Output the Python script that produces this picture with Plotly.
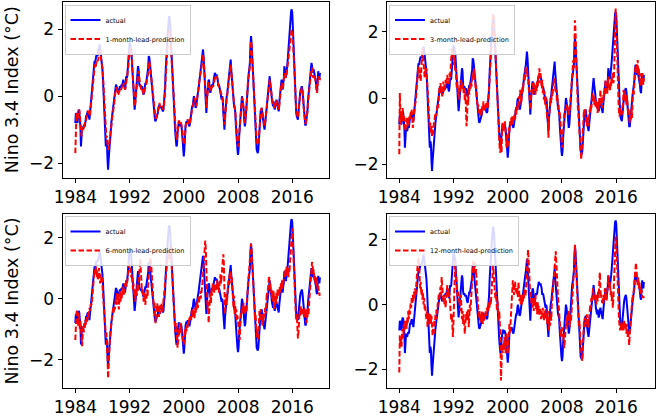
import plotly.graph_objects as go

# ---------------- data (monthly, starting Jan 1984) ----------------
start_year = 1984
tick_years = [1984, 1992, 2000, 2008, 2016]
y_ticks = [-2, 0, 2]

actual = [
    -0.8, -0.5, -0.6, -0.7, -0.8, -0.5, -0.4, -0.45, -0.6, -0.9, -1.5, -1.1,
    -0.9, -0.95, -1.0, -0.9, -0.85, -0.9, -0.7, -0.6, -0.6, -0.5, -0.45, -0.5,
    -0.6, -0.7, -0.5, -0.3, -0.1, 0.0, 0.3, 0.6, 0.8, 0.95, 1.05, 1.0,
    1.15, 1.2, 1.25, 1.2, 1.25, 1.35, 1.5, 1.55, 1.45, 1.3, 1.2, 1.0,
    0.8, 0.5, 0.1, -0.5, -0.9, -1.3, -1.5, -1.3, -1.4, -1.9, -2.2, -1.9,
    -1.6, -1.3, -1.1, -0.9, -0.75, -0.6, -0.45, -0.4, -0.3, -0.1, 0.1, 0.3,
    0.35, 0.3, 0.2, 0.15, 0.1, 0.15, 0.25, 0.3, 0.25, 0.3, 0.35, 0.3,
    0.4, 0.5, 0.35, 0.25, 0.2, 0.35, 0.6, 0.55, 0.6, 0.8, 1.1, 1.4,
    1.6, 1.55, 1.45, 1.4, 1.1, 0.7, 0.35, 0.0, -0.2, -0.4, -0.2, 0.1,
    0.3, 0.5, 0.7, 0.9, 0.8, 0.4, 0.3, 0.35, 0.3, 0.25, 0.3, 0.1,
    0.1, 0.05, 0.15, 0.3, 0.4, 0.35, 0.5, 0.55, 0.6, 0.85, 1.2, 1.15,
    1.0, 0.8, 0.6, 0.4, 0.1, 0.0, -0.2, -0.3, -0.55, -0.7, -0.75, -0.7,
    -0.65, -0.6, -0.5, -0.35, -0.3, -0.25, -0.35, -0.3, -0.3, -0.35, -0.4, -0.45,
    -0.4, -0.2, 0.0, 0.3, 0.8, 1.2, 1.5, 1.8, 2.0, 2.2, 2.4, 2.35,
    2.1, 1.7, 1.4, 0.9, 0.4, 0.0, -0.4, -0.7, -0.9, -1.1, -1.3, -1.5,
    -1.45, -1.1, -0.85, -0.8, -0.8, -0.9, -0.8, -0.85, -0.9, -1.1, -1.3, -1.6,
    -1.8, -1.6, -1.1, -0.9, -0.8, -0.75, -0.8, -0.7, -0.8, -0.9, -0.9, -0.8,
    -0.6, -0.5, -0.4, -0.3, -0.3, -0.1, 0.0, -0.1, -0.2, -0.35, -0.3, -0.1,
    0.05, 0.1, 0.2, 0.35, 0.6, 0.7, 0.8, 0.9, 1.0, 1.2, 1.4, 1.2,
    0.9, 0.6, 0.3, -0.2, -0.5, -0.1, 0.3, 0.35, 0.5, 0.45, 0.2, 0.1,
    0.2, 0.3, 0.35, 0.3, 0.35, 0.5, 0.6, 0.7, 0.65, 0.6, 0.65, 0.6,
    0.5, 0.3, 0.35, 0.3, 0.2, 0.15, 0.1, -0.1, 0.0, -0.1, -0.5, -0.9,
    -1.0, -0.6, -0.3, -0.2, 0.0, 0.1, 0.3, 0.5, 0.6, 0.8, 1.0, 1.1,
    0.8, 0.5, 0.2, -0.1, -0.2, -0.3, -0.35, -0.45, -0.8, -1.2, -1.5, -1.6,
    -1.75, -1.6, -1.2, -0.9, -0.6, -0.3, -0.1, 0.0, -0.1, -0.2, -0.4, -0.7,
    -0.9, -0.8, -0.5, -0.1, 0.2, 0.5, 0.6, 0.7, 0.8, 1.0, 1.5, 1.8,
    1.6, 1.2, 0.9, 0.5, 0.1, -0.3, -0.8, -1.1, -1.4, -1.6, -1.65, -1.7,
    -1.6, -1.2, -0.8, -0.6, -0.45, -0.4, -0.35, -0.5, -0.7, -0.85, -0.9, -1.0,
    -0.8, -0.6, -0.5, -0.3, -0.1, 0.2, 0.4, 0.55, 0.6, 0.4, 0.3, 0.1,
    -0.1, -0.2, -0.3, -0.15, -0.3, -0.4, -0.3, -0.2, -0.1, -0.2, -0.3, -0.4,
    -0.45, -0.2, 0.0, 0.2, 0.4, 0.5, 0.3, 0.2, 0.4, 0.5, 0.9, 0.7,
    0.6, 0.6, 0.7, 0.9, 1.1, 1.4, 1.5, 1.8, 2.0, 2.3, 2.55, 2.6,
    2.5, 2.1, 1.6, 1.0, 0.5, 0.0, -0.4, -0.5, -0.6, -0.7, -0.7, -0.5,
    -0.2, -0.1, 0.1, 0.2, 0.3, 0.3, 0.2, 0.0, -0.4, -0.6, -0.8, -0.85,
    -0.85, -0.7, -0.6, -0.4, -0.1, 0.1, 0.2, 0.3, 0.5, 0.8, 1.0, 0.9,
    0.75, 0.7, 0.8, 0.7, 0.65, 0.5, 0.4, 0.2, 0.15, 0.5, 0.75, 0.6,
    0.5, 0.7,
]

pred_1 = [
    -1.7, -0.7, -0.5, -0.6, -0.7, -0.6, -0.45, -0.4, -0.55, -0.8, -1.2, -1.2,
    -1.0, -0.9, -0.9, -0.95, -0.8, -0.8, -0.8, -0.65, -0.55, -0.55, -0.45, -0.45,
    -0.5, -0.6, -0.6, -0.4, -0.2, -0.05, 0.1, 0.4, 0.65, 0.75, 0.85, 0.95,
    0.85, 1.0, 1.05, 1.1, 1.05, 1.15, 1.25, 1.35, 1.3, 1.2, 1.05, 0.95,
    0.85, 0.6, 0.3, -0.1, -0.6, -0.9, -1.2, -1.25, -1.2, -1.4, -1.6, -1.5,
    -1.5, -1.3, -1.1, -0.95, -0.8, -0.65, -0.55, -0.45, -0.35, -0.2, 0.0, 0.15,
    0.25, 0.25, 0.2, 0.15, 0.05, 0.1, 0.15, 0.2, 0.25, 0.2, 0.25, 0.3,
    0.25, 0.35, 0.4, 0.3, 0.2, 0.25, 0.4, 0.5, 0.5, 0.65, 0.9, 1.2,
    1.4, 1.45, 1.35, 1.3, 1.15, 0.8, 0.45, 0.1, -0.1, -0.3, -0.25, 0.0,
    0.2, 0.35, 0.55, 0.7, 0.75, 0.5, 0.3, 0.3, 0.25, 0.2, 0.25, 0.15,
    0.05, 0.05, 0.1, 0.2, 0.35, 0.35, 0.4, 0.5, 0.5, 0.7, 0.95, 1.05,
    0.95, 0.8, 0.6, 0.4, 0.2, 0.0, -0.15, -0.25, -0.45, -0.6, -0.65, -0.65,
    -0.6, -0.55, -0.5, -0.4, -0.3, -0.2, -0.3, -0.3, -0.25, -0.3, -0.35, -0.4,
    -0.4, -0.3, -0.1, 0.15, 0.6, 1.0, 1.3, 1.55, 1.7, 1.85, 1.95, 1.9,
    1.8, 1.5, 1.2, 0.8, 0.4, 0.0, -0.3, -0.55, -0.75, -0.95, -1.1, -1.25,
    -1.3, -1.1, -0.85, -0.75, -0.75, -0.85, -0.8, -0.8, -0.85, -0.95, -1.1, -1.3,
    -1.45, -1.4, -1.05, -0.9, -0.8, -0.75, -0.75, -0.7, -0.75, -0.85, -0.85, -0.8,
    -0.65, -0.5, -0.45, -0.35, -0.3, -0.15, -0.05, -0.05, -0.15, -0.3, -0.3, -0.15,
    0.0, 0.05, 0.15, 0.3, 0.5, 0.65, 0.7, 0.8, 0.9, 1.05, 1.25, 1.15,
    0.9, 0.65, 0.35, -0.05, -0.35, -0.15, 0.2, 0.3, 0.4, 0.4, 0.25, 0.15,
    0.15, 0.25, 0.3, 0.3, 0.3, 0.4, 0.5, 0.6, 0.6, 0.55, 0.6, 0.55,
    0.5, 0.35, 0.3, 0.3, 0.2, 0.15, 0.1, 0.0, -0.05, -0.1, -0.35, -0.7,
    -0.85, -0.7, -0.4, -0.25, -0.05, 0.05, 0.2, 0.4, 0.5, 0.65, 0.85, 0.95,
    0.8, 0.55, 0.25, 0.0, -0.15, -0.25, -0.3, -0.4, -0.65, -1.0, -1.25, -1.4,
    -1.5, -1.45, -1.15, -0.9, -0.65, -0.35, -0.15, -0.05, -0.1, -0.2, -0.35, -0.6,
    -0.8, -0.75, -0.55, -0.2, 0.1, 0.4, 0.55, 0.6, 0.7, 0.9, 1.3, 1.65,
    1.5, 1.15, 0.85, 0.5, 0.15, -0.2, -0.6, -0.95, -1.2, -1.35, -1.4, -1.45,
    -1.4, -1.15, -0.85, -0.6, -0.5, -0.4, -0.35, -0.45, -0.6, -0.75, -0.85, -0.9,
    -0.8, -0.65, -0.5, -0.35, -0.15, 0.1, 0.3, 0.45, 0.5, 0.4, 0.3, 0.1,
    -0.05, -0.15, -0.25, -0.2, -0.25, -0.35, -0.3, -0.2, -0.15, -0.15, -0.25, -0.35,
    -0.4, -0.3, -0.05, 0.15, 0.3, 0.4, 0.3, 0.2, 0.3, 0.45, 0.7, 0.65,
    0.6, 0.55, 0.65, 0.8, 0.95, 1.2, 1.3, 1.5, 1.7, 1.85, 2.0, 2.0,
    1.95, 1.8, 1.4, 0.9, 0.5, 0.05, -0.3, -0.45, -0.5, -0.6, -0.65, -0.5,
    -0.25, -0.15, 0.05, 0.15, 0.25, 0.25, 0.2, 0.05, -0.3, -0.5, -0.7, -0.8,
    -0.8, -0.7, -0.6, -0.45, -0.15, 0.05, 0.15, 0.25, 0.4, 0.65, 0.8, 0.85,
    0.7, 0.55, 0.6, 0.65, 0.55, 0.5, 0.35, 0.2, 0.1, 0.35, 0.6, 0.55,
    0.45, 0.55,
]

pred_3 = [
    -1.7, 0.15, -0.5, -0.8, -0.4, -0.7, -0.3, -0.6, -0.5, -0.7, -0.85, -1.0,
    -0.8, -0.6, -0.75, -0.85, -0.6, -0.8, -0.55, -0.65, -0.4, -0.5, -0.35, -0.6,
    -0.9, -0.7, -0.45, -0.5, -0.2, -0.1, 0.2, 0.55, 0.5, 0.8, 0.95, 0.7,
    0.6, 0.85, 0.5, 0.9, 1.2, 1.5, 1.3, 0.9, 1.0, 0.6, 0.9, 0.75,
    0.9, 0.55, 0.6, 0.2, -0.3, -0.7, -0.9, -0.75, -1.05, -0.85, -1.15, -0.95,
    -1.1, -0.8, -0.65, -0.7, -0.45, -0.55, -0.35, -0.4, -0.2, -0.3, 0.1, 0.3,
    0.2, 0.45, 0.15, 0.35, 0.05, 0.3, 0.5, 0.2, 0.4, 0.25, 0.55, 0.4,
    0.6, 0.7, 0.45, 0.5, 0.4, 0.75, 0.6, 0.9, 1.1, 1.5, 1.2, 1.35,
    1.4, 1.0, 1.2, 0.8, 0.9, 0.45, 0.3, 0.5, 0.1, 0.25, -0.05, 0.3,
    0.2, 0.55, 0.35, 0.5, 0.25, 0.4, 0.15, 0.3, -0.1, 0.2, -0.3, -0.85,
    -0.6, 0.1, -0.2, 0.3, 0.1, 0.45, 0.25, 0.5, 0.35, 0.7, 0.55, 0.8,
    0.9, 0.6, 0.75, 0.3, 0.4, 0.0, -0.1, -0.3, -0.2, -0.45, -0.35, -0.55,
    -0.45, -0.3, -0.5, -0.2, -0.35, -0.1, -0.25, -0.4, -0.2, -0.3, -0.15, -0.3,
    -0.1, -0.3, 0.0, 0.2, 0.6, 0.9, 1.3, 1.7, 2.0, 2.3, 2.55, 2.45,
    2.2, 1.9, 1.5, 1.1, 0.6, 0.3, -0.2, -0.6, -1.0, -1.3, -1.6, -1.65,
    -1.2, -1.65, -0.9, -0.75, -1.0, -0.8, -0.95, -0.7, -1.0, -1.2, -1.5, -1.1,
    -1.5, -1.2, -0.9, -1.05, -0.7, -0.85, -0.6, -0.75, -0.55, -0.8, -0.6, -0.7,
    -0.5, -0.65, -0.35, -0.5, -0.25, -0.4, -0.1, -0.3, 0.05, -0.2, 0.25, 0.0,
    -0.15, 0.1, 0.35, 0.2, 0.45, 0.75, 0.5, 0.8, 0.95, 0.7, 0.9, 0.65,
    0.6, 0.3, 0.2, -0.1, -0.35, -0.05, 0.25, 0.1, 0.45, 0.3, 0.5, 0.2,
    0.3, 0.1, 0.4, 0.2, 0.5, 0.35, 0.65, 0.45, 0.9, 0.6, 0.75, 0.5,
    0.35, 0.55, 0.15, 0.3, -0.05, 0.2, -0.2, 0.05, -0.3, -0.5, -0.65, -0.55,
    -1.2, -0.6, -0.4, -0.2, 0.0, -0.15, 0.2, 0.05, 0.35, 0.5, 0.6, 0.45,
    0.3, 0.15, 0.25, -0.1, 0.1, -0.35, -0.2, -0.5, -0.4, -0.65, -0.9, -1.2,
    -1.5, -1.3, -0.9, -0.65, -0.5, -0.35, -0.4, -0.2, -0.3, -0.35, -0.25, -0.5,
    -0.35, -0.5, -0.3, 0.0, 0.3, 0.45, 0.7, 0.85, 1.15, 0.9, 1.6, 2.35,
    2.0, 1.3, 0.65, 0.3, -0.25, -0.5, -0.85, -1.1, -1.35, -1.5, -1.85, -1.6,
    -1.3, -0.75, -0.5, -0.35, -0.55, -0.3, -0.6, -0.75, -0.85, -0.6, -0.75, -0.85,
    -0.55, -0.35, -0.45, -0.2, -0.3, -0.05, 0.15, -0.1, 0.1, -0.2, 0.0, -0.25,
    -0.05, -0.3, -0.1, -0.45, -0.15, -0.35, 0.0, -0.25, 0.25, -0.1, 0.05, -0.3,
    -0.2, 0.1, -0.05, 0.3, 0.1, 0.55, 0.2, 0.35, 0.1, 0.45, 0.65, 0.3,
    0.4, 0.2, 0.5, 0.35, 0.65, 0.5, 0.8, 0.45, 0.6, 1.3, 2.2, 2.7,
    2.4, 1.5, 0.8, 0.25, -0.1, -0.45, -0.55, -0.3, -0.5, -0.35, -0.5, -0.25,
    -0.2, 0.25, 0.0, 0.2, -0.1, 0.1, -0.2, 0.05, -0.3, -0.45, -0.35, -0.6,
    -0.75, -0.5, -0.65, -0.3, -0.6, -0.1, 0.25, 0.1, 0.5, 0.8, 0.95, 0.75,
    1.05, 0.8, 1.15, 0.7, 0.9, 0.55, 0.75, 0.35, 0.6, 0.4, 0.75, 0.55,
    0.4, 0.6,
]

pred_6 = [
    -1.35, -0.7, -0.5, -0.35, -0.6, -0.9, -0.45, -0.8, -1.0, -0.7, -1.1, -1.3,
    -1.55, -1.2, -0.9, -1.1, -0.8, -0.95, -0.7, -0.85, -0.6, -0.75, -0.5, -0.65,
    -0.45, -0.3, -0.4, -0.25, -0.15, -0.2, 0.1, 0.3, 0.5, 0.75, 0.95, 0.8,
    0.95, 1.05, 0.7, 0.9, 0.6, 0.85, 1.0, 0.75, 0.5, 0.8, 0.55, 0.7,
    0.45, 0.4, 0.1, -0.25, -0.6, -0.9, -1.25, -1.1, -1.6, -1.9, -2.6, -2.0,
    -1.8, -1.4, -1.1, -0.9, -0.7, -0.75, -0.5, -0.3, -0.45, -0.25, -0.35, -0.1,
    0.1, -0.2, 0.2, -0.05, 0.15, -0.35, 0.05, 0.25, -0.1, 0.2, 0.0, 0.3,
    0.15, 0.4, 0.1, 0.3, 0.5, 0.35, 0.6, 0.4, 0.7, 0.85, 0.95, 1.1,
    1.15, 1.0, 0.85, 0.7, 0.8, 0.45, 0.3, 0.5, 0.1, 0.3, -0.1, 0.15,
    0.3, 0.1, 0.5, 0.25, 0.6, 0.9, 1.1, 1.3, 0.9, 0.4, 0.2, 0.35,
    0.1, -0.1, 0.2, 0.05, -0.2, 0.15, 0.0, 0.3, 0.1, 0.5, 0.8, 0.95,
    1.1, 1.35, 1.2, 0.8, 0.5, 0.3, 0.1, -0.3, -0.1, -0.5, -0.8, -0.4,
    -0.3, -0.15, -0.4, -0.2, -0.6, -0.3, -0.5, -0.2, -0.35, -0.15, -0.45, -0.25,
    -0.3, 0.0, 0.2, 0.4, 0.75, 0.9, 1.1, 1.2, 1.45, 1.5, 1.3, 1.6,
    1.7, 1.6, 1.2, 0.9, 0.75, 0.3, -0.15, -0.5, -0.9, -1.1, -0.8, -1.25,
    -1.3, -1.6, -1.4, -1.0, -1.2, -0.8, -1.0, -0.85, -1.1, -1.2, -1.3, -1.45,
    -1.5, -1.3, -1.0, -1.2, -0.9, -1.05, -0.85, -0.95, -0.75, -0.85, -0.6, -0.7,
    -0.55, -0.7, -0.4, -0.6, -0.35, -0.5, -0.45, -0.65, -0.3, -0.5, -0.2, -0.35,
    -0.1, -0.3, 0.1, -0.15, 0.05, 0.25, 0.0, 0.3, 0.2, 0.5, 0.75, 1.0,
    1.5, 1.75, 1.9, 1.6, 0.8, 0.3, -0.35, -0.1, -0.8, -0.4, -0.1, 0.2,
    -0.15, 0.3, 0.1, 0.5, 0.25, 0.45, 0.2, 0.35, 0.5, 0.25, 0.4, 0.6,
    0.35, 0.55, 0.2, 0.4, 0.6, 0.8, 0.5, 0.7, 1.0, 1.2, 1.45, 1.1,
    0.3, -0.5, 0.0, 0.15, -0.2, 0.1, 0.3, 0.6, 0.45, 0.8, 0.7, 0.9,
    0.5, 0.7, 0.2, 0.0, -0.3, 0.1, -0.5, -0.2, -0.6, -0.35, -0.7, -0.55,
    -0.8, -1.0, -1.2, -1.35, -0.9, -0.6, -0.35, -0.5, -0.25, -0.45, -0.15, -0.4,
    -0.3, -0.5, -0.2, -0.45, 0.1, 0.4, 0.6, 0.75, 1.05, 1.2, 1.5, 1.8,
    1.6, 1.3, 0.9, 0.7, 0.3, -0.2, -0.7, -0.5, -0.9, -1.25, -1.0, -1.35,
    -1.2, -0.8, -0.4, -0.6, -0.35, -0.7, -0.5, -0.9, -0.6, -0.75, -0.45, -0.6,
    -0.3, -0.5, 0.0, 0.2, 0.1, 0.45, 0.6, 0.75, 0.4, 0.55, 0.2, 0.3,
    0.0, 0.3, -0.1, 0.25, -0.35, -0.05, 0.1, -0.2, 0.2, 0.0, 0.3, 0.1,
    0.3, 0.1, 0.4, 0.2, 0.5, 0.3, 0.6, 0.35, 0.45, 0.65, 0.8, 0.7,
    0.95, 0.75, 1.05, 0.8, 0.95, 0.7, 1.0, 0.85, 1.2, 1.6, 1.85, 2.1,
    2.3, 1.9, 1.3, 0.8, 0.2, -0.1, -0.4, -0.7, -0.5, -0.9, -1.3, -1.1,
    -0.7, -0.4, -0.6, -0.25, -0.5, -0.3, -0.55, -0.35, -0.45, -0.6, -0.3, -0.5,
    -0.4, -0.8, -0.35, -0.6, -0.3, -0.5, -0.1, 0.2, 0.5, 0.85, 1.0, 1.2,
    1.15, 0.8, 0.95, 0.6, 0.75, 0.5, 0.7, 0.4, 0.6, 0.3, 0.45, 0.15,
    0.2, 0.0,
]

pred_12 = [
    -2.1, -0.95, -1.25, -1.0, -1.3, -0.85, -0.75, -1.05, -0.6, -0.8, -0.5, -0.7,
    -0.55, -0.75, -0.4, -0.6, -0.2, -0.45, -0.15, -0.3, 0.05, -0.1, 0.2, 0.05,
    0.3, 0.1, 0.4, 0.2, 0.5, 0.3, 0.7, 0.85, 1.1, 1.3, 1.45, 1.2,
    0.8, 0.5, 0.7, 0.3, 0.5, 0.15, 0.35, 0.0, 0.2, -0.15, -0.05, -0.3,
    -0.45, -0.2, -0.7, -0.35, -0.5, -0.25, -0.6, -0.3, -0.55, -0.35, -0.7, -0.95,
    -0.75, -0.9, -0.5, -0.65, -0.3, -0.45, -0.15, -0.3, 0.0, 0.1, 0.3, 0.2,
    0.4, 0.55, 0.3, 0.85, 0.6, 0.4, 0.1, 0.3, 0.0, 0.2, -0.1, 0.15,
    0.4, 0.6, 0.3, 0.5, 0.2, 0.35, 0.0, -0.2, -0.5, -0.3, -0.7, -1.0,
    -0.5, 0.3, 0.9, 1.35, 1.0, 0.8, 0.5, 0.25, 0.4, 0.1, 0.2, -0.05,
    -0.2, 0.3, -0.3, -0.45, -0.2, -0.6, -0.3, -0.5, -0.9, -0.6, -0.3, -0.45,
    -0.2, -0.5, -0.15, -0.7, -0.3, 0.0, -0.2, 0.2, 0.5, 0.8, 1.1, 1.35,
    1.0, 1.25, 1.3, 0.9, 1.1, 0.6, 0.4, 0.1, -0.1, -0.4, -0.2, -0.5,
    -0.3, -0.55, -0.2, -0.45, -0.6, -0.35, -0.5, -0.3, -0.45, -0.2, -0.35, -0.1,
    -0.25, 0.0, -0.2, 0.1, -0.1, 0.2, 0.0, 0.3, 0.6, 0.9, 1.2, 1.0,
    0.7, 0.4, 0.2, 0.4, 0.0, -0.2, 0.1, -0.3, -0.5, -0.2, -0.6, -1.0,
    -2.35, -1.8, -1.3, -1.5, -1.2, -1.4, -1.0, -1.3, -1.5, -1.25, -0.9, -1.0,
    -1.5, -1.0, -0.8, -0.6, -0.9, -0.5, -0.2, 0.1, 0.4, 0.75, 0.5, 0.3,
    0.6, 0.7, 0.4, 0.55, 0.3, 0.5, 0.2, 0.7, 0.45, 0.1, 0.3, 0.0,
    0.2, 0.0, 0.3, 0.1, 0.35, 0.2, 0.5, 0.25, 0.4, 0.7, 1.1, 1.5,
    1.7, 1.4, 0.8, 0.5, 0.2, 0.35, 0.0, 0.15, -0.1, 0.2, -0.2, 0.1,
    0.0, 0.3, -0.15, 0.05, -0.3, 0.1, -0.2, -0.05, -0.35, -0.1, -0.25, -0.45,
    -0.2, -0.4, -0.1, -0.3, -0.5, -0.2, -0.35, -0.15, -0.45, -0.3, -0.6, -0.2,
    -0.5, -0.8, -0.4, -0.65, -0.3, -0.5, 0.0, 0.2, 0.4, 0.6, 0.9, 1.2,
    1.4, 1.65, 1.3, 0.8, 0.5, 0.2, 0.0, -0.2, -0.4, -0.6, -1.0, -0.8,
    -0.7, -1.0, -0.9, -1.2, -1.35, -1.1, -0.8, -0.6, -0.4, -0.6, -0.3, -0.5,
    -0.2, -0.6, -0.7, -0.3, -0.5, -0.2, 0.1, 0.3, 0.5, 0.8, 1.3, 1.85,
    1.4, 0.9, 0.6, 0.3, 0.0, -0.4, -0.7, -0.5, -0.9, -1.3, -1.5, -1.65,
    -1.75, -1.2, -0.8, -0.5, -0.65, -0.4, -0.7, -0.5, -0.3, -0.6, -0.45, -0.7,
    -0.5, -0.3, 0.0, -0.1, 0.2, 0.1, 0.3, 0.5, 0.3, 0.15, 0.35, 0.1,
    0.25, 0.0, 0.3, 0.1, 0.4, 0.2, 0.7, 1.0, 0.5, 0.2, 0.3, 0.05,
    0.2, 0.0, 0.3, 0.1, 0.5, 0.3, 0.4, 0.1, 0.35, 0.6, 0.9, 0.7,
    0.5, 0.7, 0.3, 0.45, 0.1, 0.3, -0.1, 0.2, 0.6, 1.0, 1.6, 2.1,
    2.0, 1.5, 0.8, 0.2, -0.3, -0.5, -0.65, -0.8, -0.6, -0.75, -0.55, -0.8,
    -0.6, -0.8, -0.5, -0.7, -0.55, -0.75, -0.9, -0.6, -1.0, -0.8, -1.15, -1.25,
    -0.9, -0.6, -0.3, -0.2, 0.0, 0.3, 0.2, 0.5, 0.6, 0.85, 1.1, 1.3,
    1.1, 0.8, 0.6, 0.85, 0.5, 0.7, 0.4, 0.55, 0.3, 0.45, 0.2, 0.3,
    0.2, 0.2,
]

lead_names = [
    "1-month-lead-prediction",
    "3-month-lead-prediction",
    "6-month-lead-prediction",
    "12-month-lead-prediction",
]
predictions = [pred_1, pred_3, pred_6, pred_12]
y_ranges = [[-2.43, 2.82], [-2.4, 2.9], [-2.92, 2.77], [-2.58, 2.8]]
y_title = "Nino 3.4 Index (°C)"

# ---------------- figure ----------------
W, H = 658, 416


def months(series):
    return [start_year + i / 12.0 for i in range(len(series))]


# panel pixel boxes: (left, right, top, bottom)
boxes = [(62.5, 329, 2, 177.5), (387, 655, 2, 177.5),
         (62.5, 329, 214, 388), (387, 655, 214, 388)]
x_ranges = [[1982.11, 2021.42], [1982.19, 2021.72],
            [1982.11, 2021.42], [1982.19, 2021.72]]
legend_pos = [(64.5, 4.5), (389, 4.5), (64.5, 216), (389, 216)]

FONT = "DejaVu Sans"
fig = go.Figure()
layout = dict(
    template="none",
    width=W, height=H,
    margin=dict(l=0, r=0, t=0, b=0, autoexpand=False),
    paper_bgcolor="white", plot_bgcolor="white",
    font=dict(family=FONT, color="black", size=17),
    showlegend=True,
)

for k in range(4):
    sfx = "" if k == 0 else str(k + 1)
    leg = "legend" if k == 0 else "legend" + str(k + 1)
    fig.add_trace(go.Scatter(
        x=months(actual), y=actual, mode="lines", name="actual",
        line=dict(color="#0000ff", width=2),
        xaxis="x" + sfx, yaxis="y" + sfx, legend=leg))
    fig.add_trace(go.Scatter(
        x=months(predictions[k]), y=predictions[k], mode="lines",
        name=lead_names[k],
        line=dict(color="#ff0000", width=2, dash="5.5px,2.5px"),
        xaxis="x" + sfx, yaxis="y" + sfx, legend=leg))

    l, r, t, b = boxes[k]
    layout["xaxis" + sfx] = dict(
        domain=[l / W, r / W], range=x_ranges[k],
        anchor="y" + sfx, automargin=False,
        tickmode="array", tickvals=tick_years,
        ticktext=[str(v) for v in tick_years],
        ticks="outside", ticklen=4, tickwidth=1, tickcolor="black",
        showline=True, linecolor="black", linewidth=1, mirror=True,
        showgrid=False, zeroline=False,
        tickfont=dict(family=FONT, size=17, color="black"),
    )
    yax = dict(
        domain=[1 - b / H, 1 - t / H], range=y_ranges[k],
        anchor="x" + sfx, automargin=False,
        tickmode="array", tickvals=y_ticks,
        ticktext=["\u22122", "0", "2"],
        ticks="outside", ticklen=4, tickwidth=1, tickcolor="black",
        showline=True, linecolor="black", linewidth=1, mirror=True,
        showgrid=False, zeroline=False,
        tickfont=dict(family=FONT, size=17, color="black"),
    )
    if k in (0, 2):
        yax["title"] = dict(text=y_title,
                            font=dict(family=FONT, size=17.5, color="black"))
    layout["yaxis" + sfx] = yax

    lx, ly = legend_pos[k]
    layout[leg] = dict(
        x=lx / W, y=1 - ly / H, xanchor="left", yanchor="top",
        bgcolor="rgba(255,255,255,0.85)", bordercolor="#cccccc",
        borderwidth=1, font=dict(family=FONT, size=6.5, color="black"),
        tracegroupgap=0, itemwidth=30,
    )

fig.update_layout(**layout)
# remove the browser's default page margin so the 658x416 figure fills the window
fig.write_html("out.html",
               config={"displayModeBar": False},
               post_script="document.body.style.margin='0';"
                           "document.body.style.overflow='hidden';")
